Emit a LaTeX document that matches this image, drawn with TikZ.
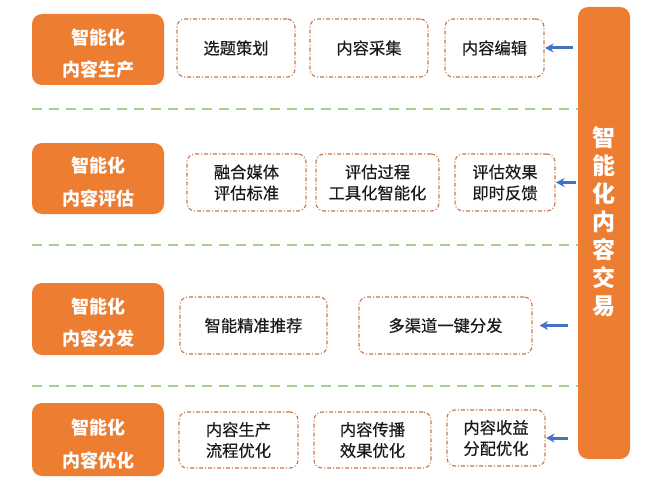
\documentclass[tikz,border=0pt]{standalone}
\usepackage{fontspec}
\setmainfont{Noto Sans CJK SC}
\newfontface\boxfont{Noto Sans CJK SC}[FakeBold=0.4]
\usetikzlibrary{arrows.meta}
\definecolor{myorange}{HTML}{ED7D31}
\definecolor{dashbrown}{HTML}{C8764A}
\definecolor{mygreen}{HTML}{A9D18E}
\definecolor{myblue}{HTML}{4472C4}
\definecolor{txt}{HTML}{1A1A1A}
\tikzset{
  obox/.style={fill=myorange, draw=none, rounded corners=10pt, minimum width=132pt, inner sep=0pt},
  otext/.style={text=white, font=\fontsize{18}{32.5}\selectfont\bfseries, align=center, inner sep=0pt},
  dbox/.style={draw=dashbrown, line width=1.1pt, rounded corners=8pt,
    dash pattern=on 4pt off 2pt on 1pt off 2pt, text=txt,
    font=\fontsize{16.3}{21}\selectfont\boxfont, align=center, inner sep=0pt},
  gline/.style={draw=mygreen, line width=1.6pt, dash pattern=on 10pt off 7pt},
  arr/.style={draw=myblue, line width=3pt, solid, -{Stealth[length=8.5pt,width=9pt]}},
}
\begin{document}
\begin{tikzpicture}[x=1pt,y=-1pt]
\useasboundingbox (0,0) rectangle (660,492);
% left boxes
\node[obox, minimum height=71pt] (L1) at (98,49.5) {};
\node[otext] (L1t) at ([yshift=-4pt]L1.center) {智能化\\内容生产};
\node[obox, minimum height=71pt] (L2) at (98,178.5) {};
\node[otext] (L2t) at ([yshift=-3.5pt]L2.center) {智能化\\内容评估};
\node[obox, minimum height=72pt] (L3) at (98,319) {};
\node[otext] (L3t) at ([yshift=-3.5pt]L3.center) {智能化\\内容分发};
\node[obox, minimum height=73pt] (L4) at (98,439.5) {};
\node[otext] (L4t) at ([yshift=-4.5pt]L4.center) {智能化\\内容优化};
% right bar
\node[fill=myorange, rounded corners=10pt, minimum width=52pt, minimum height=452pt, inner sep=0pt] (bar) at (604,233) {};
\node[text=white, font=\fontsize{23}{28}\selectfont\bfseries, align=center, inner sep=0pt] (bart) at (604,222) {智\\能\\化\\内\\容\\交\\易};
% row 1
\node[dbox, minimum width=118pt, minimum height=58pt] (a1) at (236,48) {选题策划};
\node[dbox, minimum width=118pt, minimum height=58pt] (a2) at (369,48) {内容采集};
\node[dbox, minimum width=99pt, minimum height=58pt] (a3) at (494.5,48) {内容编辑};
% row 2
\node[dbox, minimum width=119pt, minimum height=57pt] (b1) at (246.5,182.5) {融合媒体\\评估标准};
\node[dbox, minimum width=123pt, minimum height=57pt] (b2) at (377.5,182.5) {评估过程\\工具化智能化};
\node[dbox, minimum width=100pt, minimum height=57pt] (b3) at (505,182.5) {评估效果\\即时反馈};
% row 3
\node[dbox, minimum width=147pt, minimum height=57pt] (c1) at (253.5,325.5) {智能精准推荐};
\node[dbox, minimum width=173pt, minimum height=57pt] (c2) at (445.5,325.5) {多渠道一键分发};
% row 4
\node[dbox, minimum width=119pt, minimum height=56pt] (d1) at (238.5,440) {内容生产\\流程优化};
\node[dbox, minimum width=117pt, minimum height=56pt] (d2) at (372.5,440) {内容传播\\效果优化};
\node[dbox, minimum width=98pt, minimum height=56pt] (d3) at (496,438) {内容收益\\分配优化};
% green dashed separators
\coordinate (g1) at (32,109);
\coordinate (g2) at (32,245);
\coordinate (g3) at (32,386);
\draw[gline] (g1) -- (bar.west |- g1);
\draw[gline] (g2) -- (bar.west |- g2);
\draw[gline] (g3) -- (bar.west |- g3);
% arrows
\draw[arr, shorten <=5pt, shorten >=0.5pt] (bar.west |- a3.east) -- (a3.east);
\draw[arr, shorten <=2pt, shorten >=0.5pt] (bar.west |- b3.east) -- (b3.east);
\draw[arr, shorten <=10pt, shorten >=7pt] (bar.west |- c2.east) -- (c2.east);
\draw[arr, shorten <=10pt, shorten >=0.5pt] (bar.west |- d3.east) -- (d3.east);
\end{tikzpicture}
\end{document}
